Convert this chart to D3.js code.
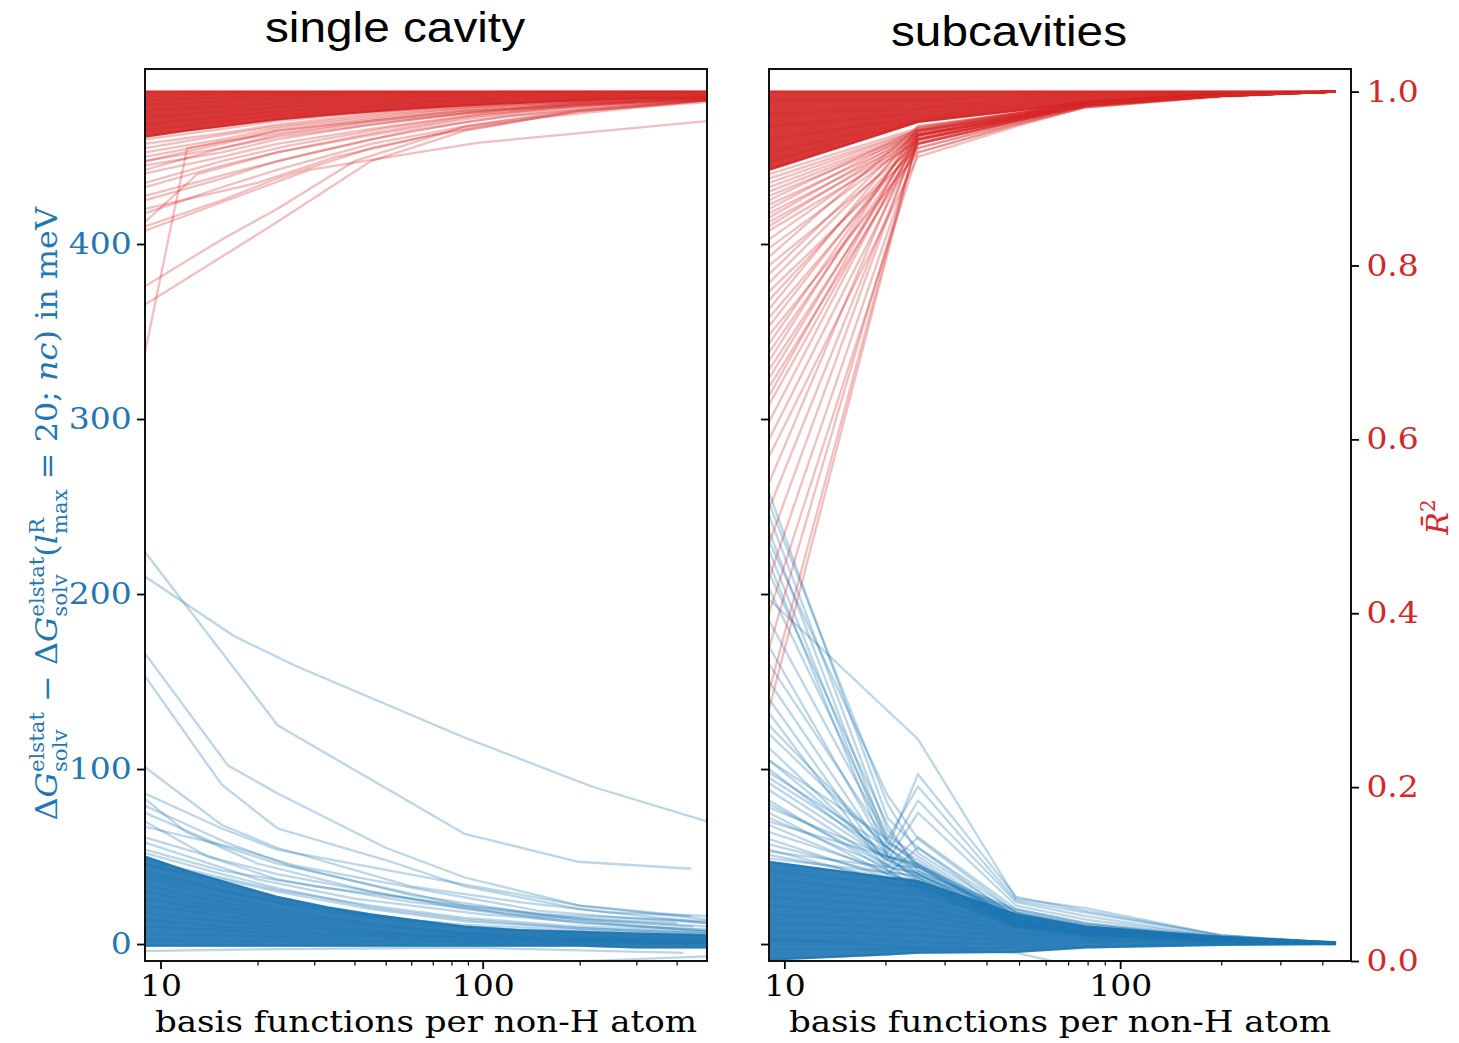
<!DOCTYPE html>
<html><head><meta charset="utf-8">
<script src="https://cdn.jsdelivr.net/npm/d3@7"></script>
<style>body{margin:0;background:#fff}text{white-space:pre}</style>
</head><body>
<svg id="c" width="1459" height="1043"></svg>
<script>
// ---------------- DATA ----------------
const titles = ["single cavity", "subcavities"];
const xLabel = "basis functions per non-H atom";
const xMajorTicks = [10, 100];
const xMinorTicks = [20, 30, 40, 50, 60, 70, 80, 90, 200, 300, 400];
const meVTicks = [0, 100, 200, 300, 400];
const r2Ticks = [0, 0.2, 0.4, 0.6, 0.8, 1.0];

// left panel (single cavity)
const LEFT_X = [8.95, 12, 15.5, 23, 33, 45, 65, 88, 130, 200, 300, 497];
const LEFT_X_COARSE = [8.95, 15.5, 23, 45, 88, 200, 497];
const leftBlueDense = [
  [50,42,36,27,21,17,13,10,8,6,5,4],[46,40,34,26,20,16,13,10,8,7,6,5],
  [42,36,31,24,18,15,11,9,7,5,4,3],[38,32,27,20,15,12,9,7,6,4,3,3],
  [34,28,24,18,14,11,8,6,5,4,3,2],[30,25,21,16,12,10,8,6,4,3,2,2],
  [26,22,19,14,10,8,6,5,4,3,2,1],[22,19,16,12,9,7,5,4,3,2,2,1],
  [18,15,13,10,8,6,5,4,3,2,1,1],[14,12,10,8,6,5,4,3,2,2,1,1],
  [10,9,8,6,5,4,3,2,2,1,1,1],[6,5,5,4,3,2,2,1,1,1,0,0],
  [2,2,2,2,1,1,1,1,0,0,0,0],[-1,-1,-1,-1,-1,-1,-1,-1,-1,-1,-2,-2]
];
const leftBlueLines = [
  [[8.95,224],[23.1,125],[87.7,63],[198,47],[444,43]],
  [[8.95,210],[16.9,176],[26.2,159],[87.7,118],[218,90],[497,70]],
  [[8.95,166],[16.2,102],[23.1,86],[50,55],[88,38],[200,22],[497,14]],
  [[8.95,153],[15.5,91],[23.1,66],[50,48],[88,33],[200,20],[497,12]],
  [[8.95,101],[15.5,68],[23,55],[60,33],[130,24],[250,18],[497,16]],
  [[8.95,86],[15.5,66],[23,54],[45,44],[88,34],[200,22],[444,16]],
  [[8.95,79],[16,58],[25,45],[60,28],[150,17],[497,13]],
  [[8.95,75],[15.5,56],[23,46],[88,22],[200,14],[450,10]],
  [[8.95,67],[17,55],[26,45],[70,30],[150,19],[280,15],[497,12]],
  [[8.95,61],[15.5,48],[23,40],[88,20],[200,12],[497,8]],
  [[8.95,54],[15.5,42],[30,33],[88,22],[220,14],[497,10]],
  [[8.95,70],[14,50],[23,37],[60,24],[150,16],[400,12]],
  [[8.95,58],[20,37],[40,26],[100,17],[300,10],[497,8]],
  [[8.95,83],[12,64],[20,46],[45,30],[120,17],[497,7]],
  [[8.95,48],[15.5,38],[23,31],[45,22],[88,15],[200,10],[497,7]],
  [[8.95,45],[15.5,37],[23,30],[45,20],[88,13],[200,9],[497,6]],
  [[8.95,52],[15.5,40],[23,32],[45,21],[88,14],[200,9],[497,6]],
  [[8.95,40],[15.5,30],[23,24],[45,16],[88,11],[200,8],[497,5]],
  [[8.95,-4],[20,-3],[88,-2],[420,-5]],
  [[100,-12],[497,-7]]
];
const leftRedDense = [
  [1,1,1,1,1,1,1,1,1,1,1,1],
  [0.995,0.996,0.997,0.998,0.998,0.999,0.999,0.999,1,1,1,1],
  [0.99,0.992,0.993,0.995,0.996,0.997,0.998,0.998,0.999,0.999,0.999,0.999],
  [0.985,0.987,0.989,0.992,0.993,0.994,0.995,0.996,0.997,0.998,0.998,0.999],
  [0.978,0.981,0.983,0.987,0.989,0.991,0.993,0.994,0.995,0.996,0.997,0.998],
  [0.97,0.974,0.977,0.982,0.985,0.987,0.989,0.991,0.993,0.994,0.995,0.996],
  [0.962,0.967,0.971,0.977,0.981,0.984,0.987,0.989,0.991,0.993,0.994,0.995],
  [0.955,0.961,0.966,0.973,0.977,0.981,0.984,0.986,0.989,0.991,0.993,0.994],
  [0.948,0.955,0.96,0.968,0.973,0.977,0.981,0.984,0.987,0.99,0.992,0.993]
];
const leftRedGrid = [
  [0.91,0.935,0.95,0.965,0.975,0.985,0.99],[0.92,0.94,0.955,0.968,0.978,0.987,0.992],
  [0.93,0.945,0.958,0.97,0.98,0.988,0.992],[0.94,0.952,0.962,0.974,0.982,0.989,0.993],
  [0.915,0.93,0.945,0.962,0.975,0.986,0.991],[0.925,0.942,0.952,0.966,0.977,0.986,0.991],
  [0.935,0.95,0.96,0.972,0.981,0.988,0.992],[0.945,0.957,0.966,0.976,0.983,0.989,0.993]
];
const leftRedLines = [
  [[8.95,0.70],[12.1,0.935],[23,0.955],[88,0.978],[497,0.99]],
  [[8.95,0.776],[15.5,0.83],[23,0.865],[40,0.92],[88,0.96],[200,0.98],[497,0.99]],
  [[8.95,0.755],[15.5,0.81],[23,0.85],[45,0.92],[88,0.955],[200,0.978],[497,0.99]],
  [[8.95,0.84],[29,0.91],[96,0.941],[497,0.966]],
  [[8.95,0.875],[15.5,0.9],[23,0.92],[45,0.945],[88,0.965],[200,0.982],[497,0.99]],
  [[8.95,0.86],[15.5,0.89],[23,0.91],[45,0.94],[88,0.96],[200,0.978],[497,0.988]],
  [[8.95,0.845],[15.5,0.875],[23,0.9],[45,0.935],[88,0.958],[200,0.977],[497,0.99]],
  [[8.95,0.89],[15.5,0.915],[23,0.93],[45,0.95],[88,0.968],[200,0.984],[497,0.992]],
  [[8.95,0.906],[15.5,0.925],[23,0.94],[45,0.957],[88,0.972],[200,0.986],[497,0.993]],
  [[8.95,0.92],[15.5,0.935],[23,0.948],[45,0.962],[88,0.975],[200,0.988],[497,0.994]],
  [[8.95,0.85],[13,0.905],[23,0.93],[45,0.952],[88,0.97],[200,0.985],[497,0.992]],
  [[8.95,0.865],[20,0.895],[35,0.925],[70,0.95],[150,0.97],[497,0.99]],
  [[8.95,0.88],[18,0.91],[30,0.93],[60,0.955],[120,0.972],[497,0.991]],
  [[8.95,0.895],[15.5,0.92],[25,0.938],[50,0.958],[100,0.974],[300,0.988]]
];

// right panel (subcavities)
const RIGHT_X = [9, 20.3, 25, 49, 79, 200, 437];
const rightBlueDense = [
  [47,38,36,17,10,4,1],[42,34,33,15,9,3,1],[37,30,29,13,8,3,0.5],[32,26,25,11,7,2,0.5],
  [27,22,21,9,6,2,0.5],[22,18,17,7,5,2,0.5],[17,14,13,6,4,1,0],[12,10,9,4,3,1,0],
  [7,6,5,2,2,1,0],[2,2,1,0,1,0,0],[-3,-3,-3,-2,-1,0,0],[-9,-6,-5,-4.5,-2,-0.5,0]
];
const rightBlueGrid = [
  [120,55,97,27,19,5,0.5],[105,60,90,25,18,5,0.5],[95,52,82,24,16,4,0.5],
  [100,48,75,22,14,4,0.5],[80,45,61,20,12,3,0.5],[75,40,55,18,11,3,0.5],[70,50,46,16,10,3,0.5],
  [105,50,45,18,10,3,0.5],[98,55,42,17,10,3,0.5],[92,48,40,16,9,3,0.5],[88,45,44,15,9,3,0.5],
  [82,42,38,14,8,2,0.5],[78,50,36,14,8,2,0.5],[72,44,40,13,7,2,0.5],[68,40,35,12,7,2,0.5],
  [64,42,33,12,7,2,0.5],[60,38,37,11,6,2,0.5],[57,40,34,11,6,2,0.5],[54,36,30,10,6,2,0.5],
  [51,38,32,10,5,2,0.5],[49,41,39,19,11,4,1],[53,44,41,20,12,4,1]
];
const rightBlueLines = [
  [[9,197],[25,117],[49,26],[79,20.5],[200,5],[437,0.5]],
  [[9,252],[20.3,80],[25,52],[49,16],[79,8],[437,0.5]],
  [[9,245],[20.3,65],[25,45],[49,14],[79,7],[437,0.5]],
  [[9,236],[20.3,58],[25,48],[49,13],[79,7],[437,0.5]],
  [[9,225],[20.3,55],[25,40],[49,12],[79,6],[437,0.5]],
  [[9,212],[20.3,68],[25,42],[49,12],[79,6],[437,0.5]],
  [[9,203],[20.3,62],[25,50],[49,14],[79,7],[437,0.5]],
  [[9,150],[20.3,50],[25,38],[49,11],[79,6],[437,0.5]],
  [[9,140],[20.3,45],[25,35],[49,10],[79,5],[437,0.5]],
  [[9,132],[20.3,42],[25,32],[49,10],[79,5],[437,0.5]],
  [[9,112],[20.3,48],[25,38],[49,12],[79,6],[437,0.5]],
  [[9,258],[20.3,72],[25,55],[49,15],[79,8],[437,0.5]],
  [[9,230],[20.3,85],[25,60],[49,18],[79,9],[437,0.5]],
  [[9,218],[20.3,50],[25,44],[49,13],[79,7],[437,0.5]],
  [[9,185],[20.3,60],[25,45],[49,13],[79,7],[437,0.5]],
  [[9,170],[20.3,52],[25,40],[49,12],[79,6],[437,0.5]],
  [[9,160],[20.3,58],[25,46],[49,13],[79,7],[437,0.5]],
  [[9,125],[20.3,55],[25,44],[49,12],[79,6],[437,0.5]],
  [[9,3],[25,-2],[49,-5],[79,-14]]
];
const RIGHT_RED_X = [9, 25, 49, 79, 200, 437];
const rightRedDense = [
  [1.0,1.0,1.0,1.0,1.0,1.0],[0.99,0.99,0.996,0.999,1.0,1.0],[0.975,0.98,0.992,0.997,0.999,1.0],
  [0.96,0.975,0.989,0.996,0.999,1.0],[0.945,0.97,0.986,0.994,0.999,1.0],
  [0.93,0.967,0.983,0.992,0.998,1.0],[0.92,0.966,0.98,0.99,0.998,1.0],[0.91,0.965,0.978,0.988,0.998,1.0]
];
const rightRedLines = [
  [0.905,0.958,0.976,0.989,0.997,1.0],[0.90,0.956,0.975,0.988,0.996,1.0],[0.895,0.955,0.974,0.988,0.996,1.0],
  [0.89,0.953,0.973,0.987,0.996,1.0],[0.885,0.952,0.972,0.987,0.996,1.0],[0.88,0.95,0.971,0.986,0.996,1.0],
  [0.875,0.957,0.975,0.988,0.996,1.0],[0.87,0.948,0.97,0.986,0.996,1.0],[0.865,0.955,0.974,0.988,0.996,1.0],
  [0.86,0.946,0.969,0.985,0.995,1.0],[0.855,0.953,0.973,0.987,0.996,1.0],[0.85,0.944,0.968,0.985,0.995,1.0],
  [0.845,0.951,0.972,0.987,0.996,1.0],[0.84,0.942,0.967,0.984,0.995,1.0],[0.83,0.95,0.97,0.986,0.996,1.0],
  [0.82,0.945,0.968,0.985,0.995,1.0],[0.81,0.96,0.975,0.988,0.996,1.0],[0.80,0.94,0.966,0.984,0.995,1.0],
  [0.79,0.955,0.972,0.987,0.996,1.0],[0.78,0.95,0.97,0.986,0.996,1.0],[0.77,0.935,0.964,0.983,0.995,1.0],
  [0.76,0.945,0.968,0.985,0.995,1.0],[0.75,0.958,0.974,0.988,0.996,1.0],[0.74,0.94,0.966,0.984,0.995,1.0],
  [0.73,0.95,0.97,0.986,0.996,1.0],[0.72,0.93,0.962,0.982,0.995,1.0],[0.71,0.955,0.972,0.987,0.996,1.0],
  [0.70,0.945,0.968,0.985,0.995,1.0],[0.69,0.96,0.975,0.988,0.996,1.0],[0.68,0.94,0.966,0.984,0.995,1.0],
  [0.67,0.95,0.97,0.986,0.996,1.0],[0.66,0.935,0.964,0.983,0.995,1.0],[0.65,0.955,0.972,0.987,0.996,1.0],
  [0.64,0.945,0.968,0.985,0.995,1.0],[0.62,0.95,0.97,0.986,0.996,1.0],[0.60,0.94,0.966,0.984,0.995,1.0],
  [0.58,0.925,0.96,0.982,0.994,1.0],[0.55,0.955,0.972,0.987,0.996,1.0],[0.52,0.945,0.968,0.985,0.995,1.0],
  [0.48,0.95,0.97,0.986,0.996,1.0],[0.44,0.94,0.966,0.984,0.995,1.0],[0.40,0.93,0.962,0.982,0.995,1.0],
  [0.36,0.945,0.968,0.985,0.995,1.0],[0.31,0.95,0.97,0.986,0.996,1.0],[0.29,0.948,0.97,0.986,0.996,1.0]
];

// ---------------- DRAWING ----------------
const BLUE = "#1f77b4", RED = "#d62728";
const svg = d3.select("#c");
const yTop = 69, yBot = 961;
const panels = [
  {x0:145, x1:707, dom:[8.95,497]},
  {x0:769, x1:1351, dom:[9.0,487]}
];
const yMeV = d3.scaleLinear().domain([-9.7, 500]).range([yBot, yTop]);
const yR2 = d3.scaleLinear().domain([0, 1.026]).range([yBot, yTop]);
panels.forEach(p => p.x = d3.scaleLog().domain(p.dom).range([p.x0, p.x1]));

const grid = (xs, ys) => ys.map((v,i) => [xs[i], v]);
function envelope(xs, rows) {
  return xs.map((xv,i) => ({x:xv, lo:d3.min(rows, r=>r[i]), hi:d3.max(rows, r=>r[i])}));
}

function styleAxis(sel, color) {
  sel.select(".domain").remove();
  sel.selectAll(".tick line").attr("stroke","#000").attr("stroke-width",1.8);
  sel.selectAll(".tick text").attr("fill",color).attr("font-family","DejaVu Serif")
    .attr("font-size",30).attr("transform","scale(1.1,1)");
}

function drawSeries(g, p, yS, color, xs, denseRows, lines) {
  const line = d3.line().x(d=>p.x(d[0])).y(d=>yS(d[1]));
  const area = d3.area().x(d=>p.x(d.x)).y0(d=>yS(d.lo)).y1(d=>yS(d.hi));
  g.append("path").datum(envelope(xs, denseRows)).attr("d", area)
    .attr("fill", color).attr("fill-opacity", 0.92).attr("stroke", color).attr("stroke-width", 2).attr("stroke-opacity",0.9);
  const all = denseRows.map(r=>grid(xs,r)).concat(lines);
  g.selectAll(null).data(all).enter().append("path")
    .attr("d", line).attr("fill","none").attr("stroke", color)
    .attr("stroke-opacity", 0.3).attr("stroke-width", 2.3);
}

panels.forEach((p,i) => {
  svg.append("clipPath").attr("id","clip"+i).append("rect")
    .attr("x",p.x0).attr("y",yTop).attr("width",p.x1-p.x0).attr("height",yBot-yTop);
  const g = svg.append("g").attr("clip-path",`url(#clip${i})`);
  if (i === 0) {
    drawSeries(g, p, yMeV, BLUE, LEFT_X, leftBlueDense, leftBlueLines);
    drawSeries(g, p, yR2, RED, LEFT_X, leftRedDense,
      leftRedGrid.map(r=>grid(LEFT_X_COARSE, r)).concat(leftRedLines));
  } else {
    drawSeries(g, p, yMeV, BLUE, RIGHT_X, rightBlueDense,
      rightBlueGrid.map(r=>grid(RIGHT_X, r)).concat(rightBlueLines));
    drawSeries(g, p, yR2, RED, RIGHT_RED_X, rightRedDense,
      rightRedLines.map(r=>grid(RIGHT_RED_X, r)));
  }
  svg.append("rect").attr("x",p.x0).attr("y",yTop).attr("width",p.x1-p.x0).attr("height",yBot-yTop)
    .attr("fill","none").attr("stroke","#111").attr("stroke-width",2);

  const xa = svg.append("g").attr("transform",`translate(0,${yBot})`)
    .call(d3.axisBottom(p.x).tickValues(xMajorTicks).tickFormat(d3.format("d")).tickSize(8).tickPadding(6));
  styleAxis(xa, "#000");
  const xm = svg.append("g").attr("transform",`translate(0,${yBot})`)
    .call(d3.axisBottom(p.x).tickValues(xMinorTicks).tickFormat("").tickSize(4.5));
  xm.select(".domain").remove();
  xm.selectAll(".tick line").attr("stroke","#000").attr("stroke-width",1.2);

  const ya = svg.append("g").attr("transform",`translate(${p.x0},0)`)
    .call(d3.axisLeft(yMeV).tickValues(meVTicks).tickSize(8).tickPadding(4)
      .tickFormat(i===0 ? d3.format("d") : ""));
  styleAxis(ya, BLUE);

  if (i === 1) {
    const ra = svg.append("g").attr("transform",`translate(${p.x1},0)`)
      .call(d3.axisRight(yR2).tickValues(r2Ticks).tickFormat(d3.format(".1f")).tickSize(8).tickPadding(6));
    styleAxis(ra, RED);
  }

  svg.append("text").attr("x",(p.x0+p.x1)/2 - (i===0?31:51)).attr("y", i===0?42:46)
    .attr("text-anchor","middle").attr("font-family","Liberation Sans, Arial, sans-serif")
    .attr("font-size",43).attr("textLength", i===0?260:236).attr("lengthAdjust","spacingAndGlyphs")
    .text(titles[i]);
  svg.append("text").attr("x",(p.x0+p.x1)/2).attr("y",1032)
    .attr("text-anchor","middle").attr("font-family","DejaVu Serif").attr("font-size",30)
    .attr("textLength", 542).attr("lengthAdjust","spacingAndGlyphs").text(xLabel);
});

// left y label (rotated, with sub/superscripts)
(function(){
  const gl = svg.append("g").attr("transform","translate(57,513) rotate(-90)");
  const t = gl.append("text").attr("fill",BLUE).attr("font-family","DejaVu Serif").attr("font-size",30);
  function ts(txt, o={}) {
    const s = t.append("tspan").text(txt);
    if (o.it) s.attr("font-style","italic");
    if (o.size) s.attr("font-size",o.size);
    if (o.dy != null) s.attr("dy",o.dy);
    if (o.dx != null) s.attr("dx",o.dx);
    return s;
  }
  function stack(sup, sub) {
    const a = ts(sup,{size:20,dy:-13});
    const wa = a.node().getComputedTextLength();
    const b = ts(sub,{size:20,dx:-wa,dy:23});
    const wb = b.node().getComputedTextLength();
    return {extra: Math.max(0, wa-wb), back:-10};
  }
  ts("Δ"); ts("G",{it:true});
  let s1 = stack("elstat","solv");
  ts(" − Δ",{dx:s1.extra, dy:s1.back}); ts("G",{it:true});
  let s2 = stack("elstat","solv");
  ts("(",{dx:s2.extra, dy:s2.back}); ts("l",{it:true});
  let s3 = stack("R","max");
  ts(" = 20; ",{dx:s3.extra, dy:s3.back}); ts("nc",{it:true}); ts(") in meV");
  const bb = t.node().getBBox();
  const sc = 615 / bb.width;
  t.attr("transform",`scale(${sc},1) translate(${-bb.x - bb.width/2},0)`);
})();

// right y label
(function(){
  const gr = svg.append("g").attr("transform","translate(1448,517) rotate(-90)");
  const t = gr.append("text").attr("fill",RED).attr("font-family","DejaVu Serif").attr("font-size",30)
    .attr("text-anchor","middle");
  t.append("tspan").attr("font-style","italic").text("R\u0304");
  t.append("tspan").attr("font-size",20).attr("dy",-13).text("2");
})();
</script>
</body></html>
